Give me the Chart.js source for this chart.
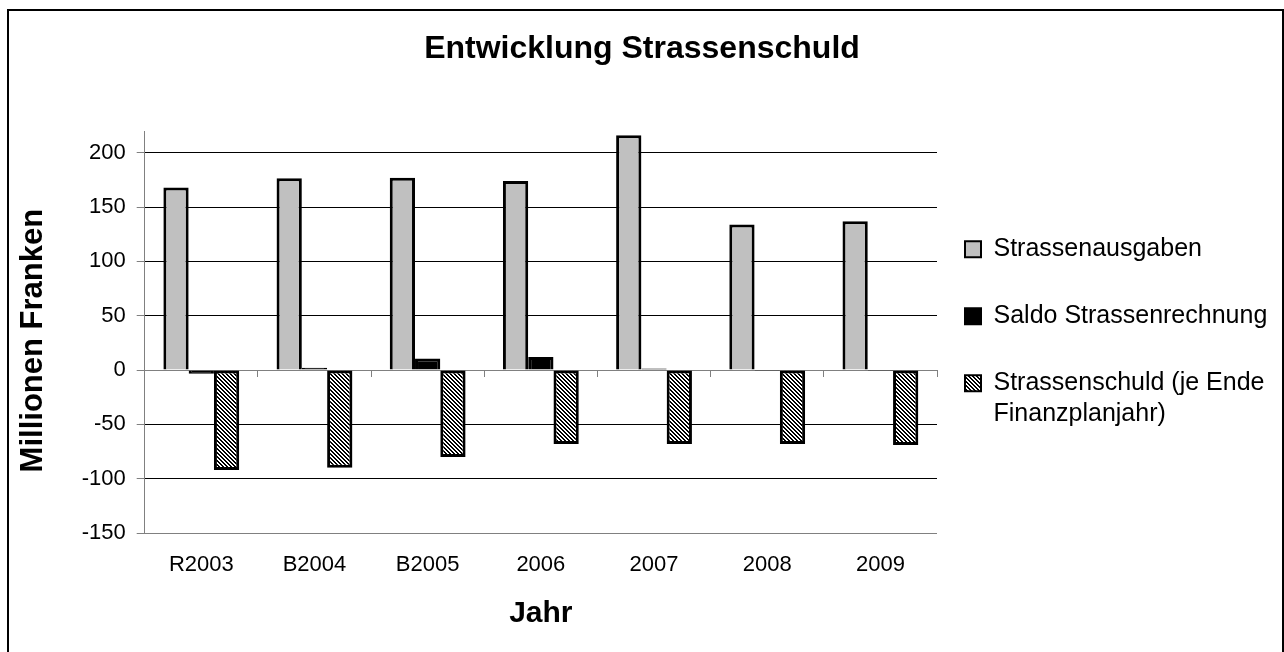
<!DOCTYPE html>
<html>
<head>
<meta charset="utf-8">
<title>Entwicklung Strassenschuld</title>
<script src="https://cdn.jsdelivr.net/npm/chart.js@4.4.0/dist/chart.umd.min.js"></script>
<style>
  html, body { margin: 0; padding: 0; background: #fff; overflow: hidden; }
  #frame { position: absolute; left: 7px; top: 9px; width: 1277px; height: 700px; border: 2px solid #000; box-sizing: border-box; }
  #myChart { position: absolute; left: 0; top: 0; }
</style>
</head>
<body>
<div id="frame"></div>
<canvas id="myChart" width="1284" height="652"></canvas>
<script>
const ctx = document.getElementById('myChart');

// values, Millionen Franken
let years = ['R2003', 'B2004', 'B2005', '2006', '2007', '2008', '2009']
let ausgaben = [168, 176.5, 177, 174, 216, 134, 137]
let saldo = [-3.5, 2, 10.5, 12, 1.5, -1, -1]
let schuld = [-92, -90, -80, -68, -68, -68, -69]
let seriesNames = ['Strassenausgaben', 'Saldo Strassenrechnung', 'Strassenschuld (je Ende Finanzplanjahr)']
let legendLines = ['Strassenschuld (je Ende', 'Finanzplanjahr)']
let yTicks = [-150, -100, -50, 0, 50, 100, 150, 200]

const FONT = '"Liberation Sans", Arial, Helvetica, sans-serif'
Chart.defaults.font.family = FONT

//hatch fill for the debt series (pixel diagonal, top-left to bottom-right)
function makeHatch() {
  let c = document.createElement('canvas')
  c.width = 4
  c.height = 4
  let g = c.getContext('2d')
  g.fillStyle = '#fff'
  g.fillRect(0, 0, 4, 4)
  g.fillStyle = '#000'
  for (var i = 0; i < 4; i++) {
    g.fillRect(i, i, 1, 1)
    g.fillRect((i + 1) % 4, i, 1, 1)
  }
  return g.createPattern(c, 'repeat')
}
let hatch = makeHatch()

//move legend a bit to the left / down
const legendShift = {
  id: 'legendShift',
  afterLayout(chart) {
    let lg = chart.legend
    lg.left -= 14
    lg.right -= 14
    lg.top += 3
    lg.bottom += 3
  }
}

let chart = new Chart(ctx, {
  type: 'bar',
  data: {
    labels: years,
    datasets: [
      {
        label: seriesNames[0],
        data: ausgaben,
        backgroundColor: '#c0c0c0',
        borderColor: '#000',
        borderWidth: 3
      },
      {
        label: seriesNames[1],
        data: saldo,
        backgroundColor: '#000',
        borderColor: '#000',
        borderWidth: 3
      },
      {
        label: seriesNames[2],
        data: schuld,
        backgroundColor: hatch,
        borderColor: '#000',
        borderWidth: 3,
        borderSkipped: false
      }
    ]
  },
  options: {
    responsive: false,
    animation: false,
    devicePixelRatio: 1,
    events: [],
    layout: { padding: 0 },
    datasets: {
      bar: { categoryPercentage: 0.67, barPercentage: 1 }
    },
    plugins: {
      title: {
        display: true,
        text: 'Entwicklung Strassenschuld',
        color: '#000',
        font: { size: 32, weight: 'bold' },
        padding: { top: 30, bottom: 62.6 }
      },
      legend: {
        position: 'right',
        align: 'center',
        fullSize: false,
        maxWidth: 347,
        labels: {
          color: '#000',
          font: { size: 25, lineHeight: 1.25 },
          boxWidth: 16,
          boxHeight: 16,
          padding: 42,
          generateLabels: function(chart) {
            let items = Chart.defaults.plugins.legend.labels.generateLabels(chart)
            items.forEach(it => { it.lineWidth = 2 })
            items[2].text = legendLines
            return items
          }
        }
      },
      tooltip: { enabled: false }
    },
    scales: {
      x: {
        grid: { display: false, drawTicks: false },
        border: { display: false },
        ticks: { color: '#000', font: { size: 22 }, padding: 19, maxRotation: 0 },
        title: {
          display: true,
          text: 'Jahr',
          color: '#000',
          font: { size: 30, weight: 'bold' },
          padding: { top: 0, bottom: 20 }
        },
        afterFit: function(scale) { scale.height = 119 }
      },
      // zero line with the little category ticks
      x2: {
        axis: 'x',
        type: 'category',
        position: { y: 0 },
        offset: true,
        grid: { offset: true, drawOnChartArea: false, drawTicks: true, tickLength: 6, color: '#808080', lineWidth: 1 },
        border: { display: true, color: '#808080', width: 1 },
        ticks: { display: false }
      },
      y: {
        min: -150,
        max: 220,
        ticks: { stepSize: 50, color: '#000', font: { size: 22 }, padding: 11 },
        afterBuildTicks: function(scale) {
          scale.ticks = yTicks.map(v => ({ value: v }))
        },
        grid: {
          color: function(c) {
            if (c.tick && (c.tick.value === 0 || c.tick.value === -150)) return '#808080'
            return '#000'
          },
          tickColor: '#808080',
          tickLength: 8,
          lineWidth: 1
        },
        border: { color: '#808080', width: 1 },
        title: {
          display: true,
          text: 'Millionen Franken  ',
          color: '#000',
          font: { size: 31, weight: 'bold' },
          padding: { top: 15, bottom: 0 }
        },
        afterFit: function(scale) { scale.width = 144.7 }
      }
    }
  },
  plugins: [legendShift]
});
</script>
</body>
</html>
